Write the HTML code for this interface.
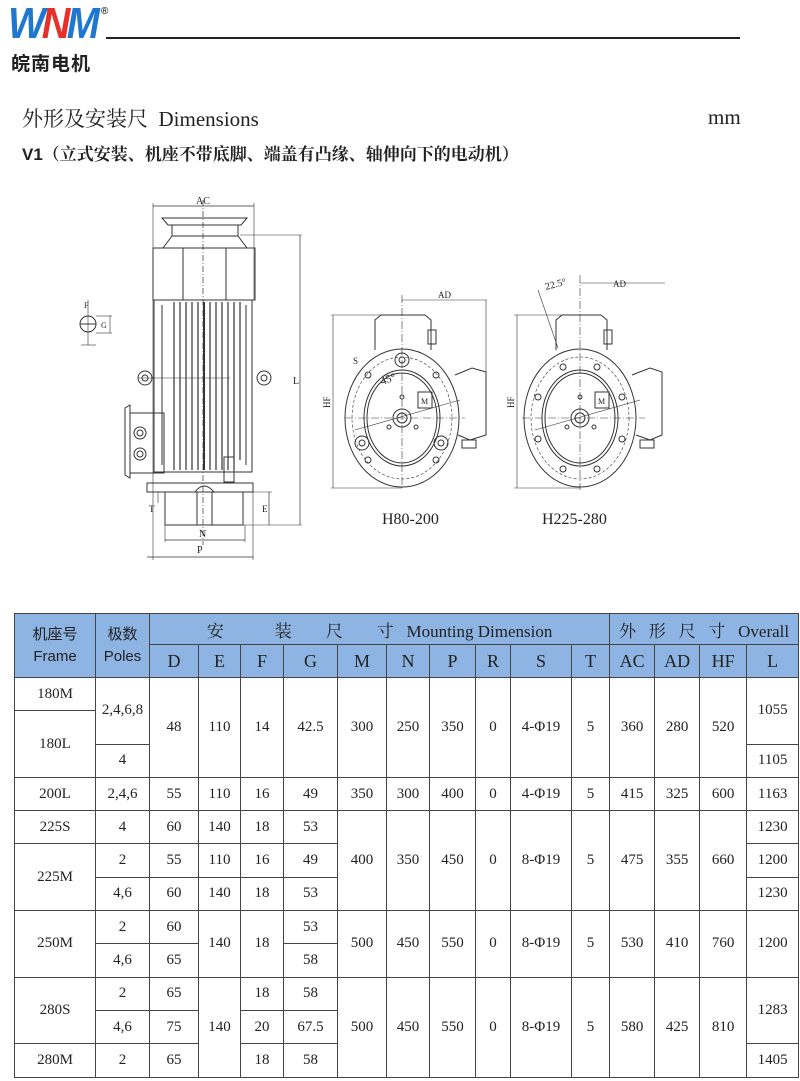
<!DOCTYPE html>
<html><head><meta charset="utf-8">
<style>
body{margin:0;width:800px;height:1081px;background:#fff;position:relative;overflow:hidden;font-family:"Liberation Serif","Noto Serif CJK SC",serif;}
.abs{position:absolute;}
table{position:absolute;left:14px;top:613px;border-collapse:collapse;table-layout:fixed;width:784px;}
td{border:1.5px solid #444;text-align:center;vertical-align:middle;padding:0;font-size:15px;color:#222;font-family:"Liberation Serif","Noto Serif CJK SC",serif;}
tr.b{height:33.3px;}
.h td{background:#8db4e2;}
tr.h2{height:33px;} .h2 td{font-size:18px;}
tr.h1{height:31px;} .h1 td{font-size:17px;}
.sans{font-family:"Liberation Sans","Noto Sans CJK SC",sans-serif !important;font-size:15px !important;line-height:22px;}
</style></head><body>
<div class="abs" style="left:8px;top:0px;font:italic bold 44px 'Liberation Sans',sans-serif;letter-spacing:-4px;line-height:48px;transform:scaleX(0.9);transform-origin:left;"><span style="color:#1f78d0">W</span><span style="color:#e8302a">N</span><span style="color:#1f78d0">M</span></div>
<div class="abs" style="left:101px;top:6px;font:10px 'Liberation Sans',sans-serif;">®</div>
<div class="abs" style="left:11px;top:49px;font:bold 19px 'Noto Sans CJK SC',sans-serif;letter-spacing:1px;color:#222">皖南电机</div>
<div class="abs" style="left:106px;top:37px;width:634px;height:2px;background:#222"></div>
<div class="abs" style="left:22px;top:103px;font-size:21px;color:#222;font-family:'Liberation Serif','Noto Serif CJK SC',serif">外形及安装尺&nbsp;&nbsp;Dimensions</div>
<div class="abs" style="left:708px;top:105px;font-size:21px;color:#222">mm</div>
<div class="abs" style="left:22px;top:140px;font-size:17px;font-weight:bold;color:#222;font-family:'Liberation Sans','Noto Serif CJK SC',serif">V1（立式安装、机座不带底脚、端盖有凸缘、轴伸向下的电动机）</div>

<svg class="abs" style="left:0;top:0" width="800" height="600" fill="none" stroke="#333" stroke-width="1">
<line x1="153" y1="206" x2="254" y2="206" stroke-width="0.8"/>
<line x1="153" y1="203" x2="153" y2="560" stroke-width="0.6"/>
<line x1="254" y1="203" x2="254" y2="300" stroke-width="0.6"/>
<text x="196" y="204" font-size="10" fill="#222" stroke="none" font-family="Liberation Serif">AC</text>
<path d="M162 218 L247 218 L241 225 L168 225 Z"/>
<path d="M172 225 L172 236 L163 248 M238 225 L238 236 L247 248"/>
<line x1="172" y1="236" x2="238" y2="236"/>
<rect x="153" y="248" width="102" height="52"/>
<line x1="183" y1="248" x2="183" y2="300"/><line x1="226" y1="248" x2="226" y2="300"/>
<rect x="154" y="300" width="98" height="172"/>
<g stroke-width="1.2">
<line x1="174" y1="302" x2="174" y2="470"/><line x1="180" y1="302" x2="180" y2="470"/><line x1="186" y1="302" x2="186" y2="470"/><line x1="192" y1="302" x2="192" y2="470"/><line x1="198" y1="302" x2="198" y2="470"/><line x1="204" y1="302" x2="204" y2="470" stroke-width="2"/><line x1="210" y1="302" x2="210" y2="470"/><line x1="216" y1="302" x2="216" y2="470"/><line x1="222" y1="302" x2="222" y2="470"/><line x1="228" y1="302" x2="228" y2="470"/><line x1="234" y1="302" x2="234" y2="470"/><line x1="240" y1="302" x2="240" y2="460"/>
</g>
<line x1="162" y1="305" x2="162" y2="465"/><line x1="246" y1="305" x2="246" y2="465"/>
<circle cx="145" cy="378" r="7"/><circle cx="145" cy="378" r="3"/>
<circle cx="264" cy="378" r="7"/><circle cx="264" cy="378" r="3"/>
<line x1="138" y1="378" x2="230" y2="378" stroke-width="0.6"/>
<path d="M125 408 L130 405 L130 478 L125 475 Z"/>
<rect x="130" y="413" width="34" height="60"/>
<circle cx="140" cy="433" r="6"/><circle cx="140" cy="433" r="3"/>
<circle cx="140" cy="454" r="6"/><circle cx="140" cy="454" r="3"/>
<rect x="224" y="457" width="10" height="25"/>
<rect x="147" y="483" width="106" height="9"/>
<rect x="165" y="492" width="78" height="33"/>
<rect x="197" y="492" width="15" height="33"/>
<path d="M195 492 Q204 480 214 492"/>
<line x1="203" y1="200" x2="203" y2="545" stroke-dasharray="6 2 1 2" stroke-width="0.7"/>
<line x1="165" y1="525" x2="165" y2="542" stroke-width="0.6"/><line x1="245" y1="525" x2="245" y2="542" stroke-width="0.6"/>
<line x1="165" y1="540" x2="245" y2="540" stroke-width="0.7"/>
<line x1="147" y1="557" x2="253" y2="557" stroke-width="0.7"/>
<line x1="253" y1="492" x2="253" y2="560" stroke-width="0.6"/>
<text x="199" y="537" font-size="10" fill="#222" stroke="none">N</text>
<text x="197" y="553" font-size="10" fill="#222" stroke="none">P</text>
<line x1="240" y1="235" x2="302" y2="235" stroke-width="0.6"/>
<line x1="300" y1="235" x2="300" y2="525" stroke-width="0.7"/>
<line x1="212" y1="525" x2="302" y2="525" stroke-width="0.6"/>
<line x1="243" y1="492" x2="272" y2="492" stroke-width="0.6"/>
<line x1="269" y1="492" x2="269" y2="525" stroke-width="0.7"/>
<text x="293" y="384" font-size="10" fill="#222" stroke="none">L</text>
<text x="262" y="512" font-size="9" fill="#222" stroke="none">E</text>
<text x="149" y="512" font-size="9" fill="#222" stroke="none">T</text>
<line x1="158" y1="492" x2="158" y2="503" stroke-width="0.6"/>
<circle cx="88" cy="324" r="8"/>
<line x1="80" y1="324" x2="96" y2="324"/>
<line x1="88" y1="300" x2="88" y2="345" stroke-width="0.6"/>
<line x1="96" y1="316" x2="112" y2="316" stroke-width="0.6"/><line x1="96" y1="333" x2="112" y2="333" stroke-width="0.6"/>
<line x1="110" y1="316" x2="110" y2="333" stroke-width="0.6"/>
<line x1="81" y1="345" x2="96" y2="345" stroke-width="0.6"/>
<text x="101" y="328" font-size="8" fill="#222" stroke="none">G</text>
<text x="84" y="308" font-size="8" fill="#222" stroke="none">F</text>

<ellipse cx="402" cy="418" rx="57" ry="69"/>
<ellipse cx="402" cy="418" rx="50" ry="61" stroke-dasharray="3 2" stroke-width="0.6"/>
<ellipse cx="402" cy="418" rx="38" ry="48"/>
<ellipse cx="402" cy="418" rx="35" ry="45"/>
<circle cx="402" cy="418" r="9"/><circle cx="402" cy="418" r="5"/>
<circle cx="402" cy="360" r="7"/><circle cx="402" cy="360" r="3"/>
<circle cx="362" cy="443" r="7"/><circle cx="362" cy="443" r="3"/>
<circle cx="441" cy="443" r="7"/><circle cx="441" cy="443" r="3"/>
<circle cx="368" cy="375" r="3"/><circle cx="436" cy="375" r="3"/><circle cx="368" cy="460" r="3"/><circle cx="436" cy="460" r="3"/>
<circle cx="402" cy="397" r="2"/><circle cx="389" cy="427" r="2"/><circle cx="416" cy="427" r="2"/>
<line x1="345" y1="418" x2="465" y2="418" stroke-dasharray="8 2 1 2" stroke-width="0.6"/>
<line x1="402" y1="295" x2="402" y2="490" stroke-dasharray="8 2 1 2" stroke-width="0.6"/>
<line x1="355" y1="430" x2="460" y2="400" stroke-width="0.6"/>
<path d="M375 350 L375 320 L381 315 L425 315 L431 320 L431 350"/>
<rect x="428" y="330" width="8" height="14"/>
<path d="M455 375 L472 368 L486 372 L486 435 L470 440 L458 435"/>
<rect x="462" y="440" width="14" height="8"/>
<rect x="418" y="392" width="14" height="16"/>
<text x="421" y="404" font-size="8" fill="#222" stroke="none">M</text>
<line x1="402" y1="300" x2="487" y2="300" stroke-width="0.6"/>
<line x1="486" y1="300" x2="486" y2="400" stroke-width="0.6"/>
<text x="438" y="298" font-size="9" fill="#222" stroke="none">AD</text>
<line x1="331" y1="315" x2="402" y2="315" stroke-width="0.6"/>
<line x1="333" y1="315" x2="333" y2="488" stroke-width="0.6"/>
<line x1="331" y1="488" x2="402" y2="488" stroke-width="0.6"/>
<text x="330" y="408" font-size="9" fill="#222" stroke="none" transform="rotate(-90 330 408)">HF</text>
<text x="382" y="385" font-size="11" fill="#222" stroke="none" transform="rotate(-20 382 385)">45°</text>
<text x="353" y="364" font-size="9" fill="#222" stroke="none">S</text>
<ellipse cx="580" cy="418" rx="56" ry="69"/>
<ellipse cx="580" cy="418" rx="49" ry="61" stroke-dasharray="3 2" stroke-width="0.6"/>
<ellipse cx="580" cy="418" rx="38" ry="48"/>
<ellipse cx="580" cy="418" rx="35" ry="45"/>
<circle cx="580" cy="418" r="9"/><circle cx="580" cy="418" r="5"/>
<circle cx="563" cy="367" r="3"/><circle cx="597" cy="367" r="3"/><circle cx="538" cy="397" r="3"/><circle cx="622" cy="397" r="3"/>
<circle cx="538" cy="439" r="3"/><circle cx="622" cy="439" r="3"/><circle cx="563" cy="469" r="3"/><circle cx="597" cy="469" r="3"/>
<circle cx="580" cy="397" r="2"/><circle cx="567" cy="427" r="2"/><circle cx="594" cy="427" r="2"/>
<line x1="522" y1="418" x2="645" y2="418" stroke-dasharray="8 2 1 2" stroke-width="0.6"/>
<line x1="580" y1="275" x2="580" y2="490" stroke-dasharray="8 2 1 2" stroke-width="0.6"/>
<line x1="535" y1="430" x2="640" y2="400" stroke-width="0.6"/>
<path d="M556 350 L556 320 L562 315 L601 315 L607 320 L607 350"/>
<rect x="604" y="330" width="8" height="14"/>
<path d="M632 375 L650 368 L662 372 L662 435 L650 440 L636 435"/>
<rect x="640" y="440" width="14" height="8"/>
<rect x="595" y="392" width="14" height="16"/>
<text x="598" y="404" font-size="8" fill="#222" stroke="none">M</text>
<line x1="580" y1="283" x2="665" y2="283" stroke-width="0.6"/>
<line x1="538" y1="290" x2="558" y2="348" stroke-width="0.6"/>
<text x="546" y="290" font-size="10" fill="#222" stroke="none" transform="rotate(-15 546 290)">22.5°</text>
<text x="613" y="287" font-size="9" fill="#222" stroke="none">AD</text>
<line x1="514" y1="315" x2="580" y2="315" stroke-width="0.6"/>
<line x1="517" y1="315" x2="517" y2="488" stroke-width="0.6"/>
<line x1="514" y1="488" x2="580" y2="488" stroke-width="0.6"/>
<text x="514" y="408" font-size="9" fill="#222" stroke="none" transform="rotate(-90 514 408)">HF</text>
<text x="382" y="524" font-size="16" fill="#222" stroke="none" font-family="Liberation Serif">H80-200</text>
<text x="542" y="524" font-size="16" fill="#222" stroke="none" font-family="Liberation Serif">H225-280</text>
</svg>

<table>
<colgroup><col style="width:81px"><col style="width:54px"><col style="width:49px"><col style="width:42px"><col style="width:43px"><col style="width:54px"><col style="width:49px"><col style="width:43px"><col style="width:46px"><col style="width:35px"><col style="width:61px"><col style="width:38px"><col style="width:45px"><col style="width:45px"><col style="width:47px"><col style="width:52px"></colgroup>
<tr class="h h1"><td rowspan="2" class="sans">机座号<br>Frame</td><td rowspan="2" class="sans">极数<br>Poles</td><td colspan="10">安&nbsp;&nbsp;&nbsp;&nbsp;&nbsp;&nbsp;&nbsp;&nbsp;&nbsp;&nbsp;&nbsp;&nbsp;装&nbsp;&nbsp;&nbsp;&nbsp;&nbsp;&nbsp;&nbsp;&nbsp;尺&nbsp;&nbsp;&nbsp;&nbsp;&nbsp;&nbsp;&nbsp;&nbsp;寸&nbsp;&nbsp;&nbsp;Mounting Dimension</td><td colspan="4">外&nbsp;&nbsp;&nbsp;形&nbsp;&nbsp;&nbsp;尺&nbsp;&nbsp;&nbsp;寸&nbsp;&nbsp;&nbsp;Overall</td></tr>
<tr class="h h2"><td>D</td><td>E</td><td>F</td><td>G</td><td>M</td><td>N</td><td>P</td><td>R</td><td>S</td><td>T</td><td>AC</td><td>AD</td><td>HF</td><td>L</td></tr>
<tr class="b"><td>180M</td><td rowspan="2">2,4,6,8</td><td rowspan="3">48</td><td rowspan="3">110</td><td rowspan="3">14</td><td rowspan="3">42.5</td><td rowspan="3">300</td><td rowspan="3">250</td><td rowspan="3">350</td><td rowspan="3">0</td><td rowspan="3">4-Φ19</td><td rowspan="3">5</td><td rowspan="3">360</td><td rowspan="3">280</td><td rowspan="3">520</td><td rowspan="2">1055</td></tr>
<tr class="b"><td rowspan="2">180L</td></tr>
<tr class="b"><td>4</td><td>1105</td></tr>
<tr class="b"><td>200L</td><td>2,4,6</td><td>55</td><td>110</td><td>16</td><td>49</td><td>350</td><td>300</td><td>400</td><td>0</td><td>4-Φ19</td><td>5</td><td>415</td><td>325</td><td>600</td><td>1163</td></tr>
<tr class="b"><td>225S</td><td>4</td><td>60</td><td>140</td><td>18</td><td>53</td><td rowspan="3">400</td><td rowspan="3">350</td><td rowspan="3">450</td><td rowspan="3">0</td><td rowspan="3">8-Φ19</td><td rowspan="3">5</td><td rowspan="3">475</td><td rowspan="3">355</td><td rowspan="3">660</td><td>1230</td></tr>
<tr class="b"><td rowspan="2">225M</td><td>2</td><td>55</td><td>110</td><td>16</td><td>49</td><td>1200</td></tr>
<tr class="b"><td>4,6</td><td>60</td><td>140</td><td>18</td><td>53</td><td>1230</td></tr>
<tr class="b"><td rowspan="2">250M</td><td>2</td><td>60</td><td rowspan="2">140</td><td rowspan="2">18</td><td>53</td><td rowspan="2">500</td><td rowspan="2">450</td><td rowspan="2">550</td><td rowspan="2">0</td><td rowspan="2">8-Φ19</td><td rowspan="2">5</td><td rowspan="2">530</td><td rowspan="2">410</td><td rowspan="2">760</td><td rowspan="2">1200</td></tr>
<tr class="b"><td>4,6</td><td>65</td><td>58</td></tr>
<tr class="b"><td rowspan="2">280S</td><td>2</td><td>65</td><td rowspan="3">140</td><td>18</td><td>58</td><td rowspan="3">500</td><td rowspan="3">450</td><td rowspan="3">550</td><td rowspan="3">0</td><td rowspan="3">8-Φ19</td><td rowspan="3">5</td><td rowspan="3">580</td><td rowspan="3">425</td><td rowspan="3">810</td><td rowspan="2">1283</td></tr>
<tr class="b"><td>4,6</td><td>75</td><td>20</td><td>67.5</td></tr>
<tr class="b"><td>280M</td><td>2</td><td>65</td><td>18</td><td>58</td><td>1405</td></tr>
</table>
</body></html>
